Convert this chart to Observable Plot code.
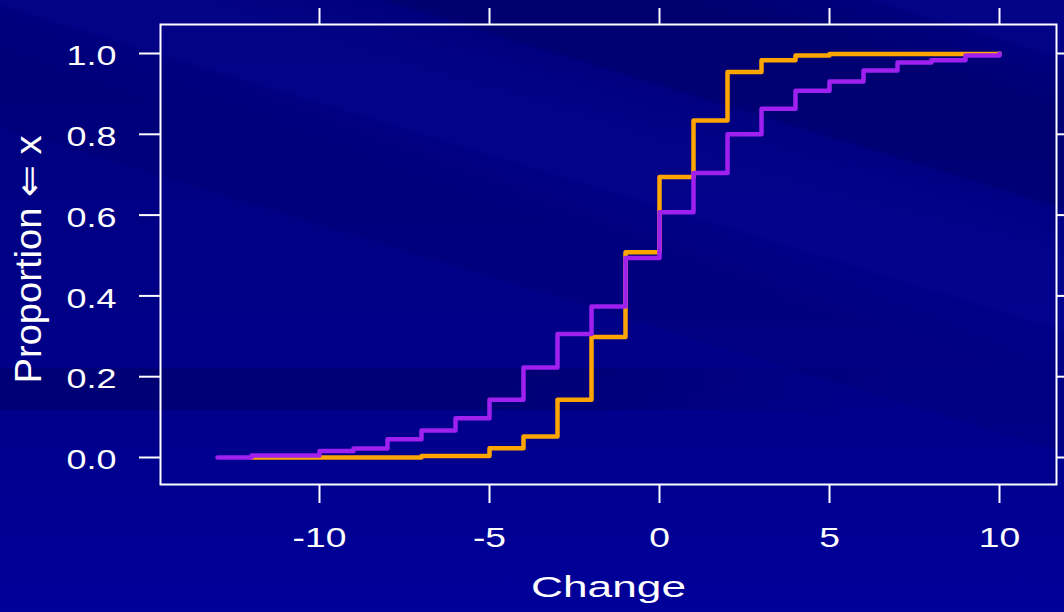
<!DOCTYPE html>
<html>
<head>
<meta charset="utf-8">
<script src="https://cdn.jsdelivr.net/npm/d3@7"></script>
<script src="https://cdn.jsdelivr.net/npm/@observablehq/plot@0.6"></script>
<style>
  html, body { margin: 0; padding: 0; }
  body {
    width: 1064px; height: 612px; overflow: hidden;
    font-family: "Liberation Sans", Arial, Helvetica, sans-serif;
    background:
      linear-gradient(90deg, rgba(0,0,40,0.22) 0%, rgba(0,0,40,0.22) 55%, rgba(0,0,40,0) 100%) 0 368px / 900px 42px no-repeat,
      linear-gradient(197deg,
        rgba(30,30,200,0.10) 0%, rgba(30,30,200,0.10) 6%, rgba(0,0,0,0) 6.5%,
        rgba(0,0,40,0.16) 12%, rgba(0,0,40,0.16) 22%, rgba(0,0,0,0) 22.5%,
        rgba(30,30,200,0.10) 29%, rgba(30,30,200,0.10) 35%, rgba(0,0,0,0) 35.5%,
        rgba(0,0,40,0.08) 41%, rgba(0,0,40,0.08) 48%, rgba(0,0,0,0) 48.5%,
        rgba(0,0,0,0) 100%),
      linear-gradient(180deg, #00007e 0%, #000086 45%, #00008c 70%, #00009a 100%);
  }
  #chart svg { display: block; }
</style>
</head>
<body>
<div id="chart"></div>
<script>
// ---- data ----
const changePurple = [-13,-12,-11,-10,-9,-8,-7,-6,-5,-4,-3,-2,-1,0,1,2,3,4,5,6,7,8,9,10];
const propPurple   = [0,0.005,0.005,0.016,0.022,0.045,0.067,0.097,0.143,0.223,0.306,0.374,0.494,0.607,0.704,0.800,0.863,0.908,0.931,0.958,0.978,0.983,0.995,1.0];

const changeOrange = [-12,-11,-10,-9,-8,-7,-6,-5,-4,-3,-2,-1,0,1,2,3,4,5,6,7,8,9,10];
const propOrange   = [0,0,0,0,0,0.004,0.004,0.023,0.052,0.143,0.298,0.508,0.694,0.834,0.954,0.983,0.995,0.999,0.999,0.999,0.999,0.999,1.0];

const xTicks = [-10,-5,0,5,10];
const yTicks = [0,0.2,0.4,0.6,0.8,1.0];
const xLabel = "Change";
const yLabel = "Proportion \u21D0 x";

const purpleData = changePurple.map((c, i) => ({change: c, prop: propPurple[i]}));
const orangeData = changeOrange.map((c, i) => ({change: c, prop: propOrange[i]}));

const chart = Plot.plot({
  width: 1064,
  height: 612,
  marginTop: 24,
  marginBottom: 128,
  marginLeft: 160,
  marginRight: 8,
  style: {background: "transparent", color: "white", fontFamily: "'Liberation Sans', Arial, sans-serif", overflow: "visible"},
  x: {domain: [-499/34, 397/34]},
  y: {domain: [-27/404, 1 + 29/404]},
  marks: [
    Plot.axisX({anchor: "bottom", ticks: xTicks, tickSize: 19, tickPadding: 24, tickFormat: d => String(d), fontSize: 28, strokeWidth: 2, label: null}),
    Plot.axisX({anchor: "top", ticks: xTicks, tickSize: 17, tickFormat: () => "", strokeWidth: 2, label: null}),
    Plot.axisY({anchor: "left", ticks: yTicks, tickSize: 21, tickFormat: () => "", strokeWidth: 2, label: null}),
    Plot.axisY({anchor: "left", ticks: yTicks, tickSize: 0, tickPadding: 44, tickFormat: d => d.toFixed(1), fontSize: 27, dy: 3, label: null}),
    Plot.axisY({anchor: "right", ticks: yTicks, tickSize: 8, tickFormat: () => "", strokeWidth: 2, label: null}),
    Plot.frame({stroke: "white", strokeWidth: 2}),
    Plot.line(orangeData, {x: "change", y: "prop", curve: "step-after", stroke: "#FFA500", strokeWidth: 4.5, strokeLinejoin: "round", strokeLinecap: "round"}),
    Plot.line(purpleData, {x: "change", y: "prop", curve: "step-after", stroke: "#A020F0", strokeWidth: 4.5, strokeLinejoin: "round", strokeLinecap: "round"}),
    Plot.text([xLabel], {frameAnchor: "bottom", text: d => d, fontSize: 30, fill: "white", textAnchor: "middle", lineAnchor: "middle", dy: 103}),
    Plot.text([yLabel], {frameAnchor: "left", text: d => d, fontSize: 36, fill: "white", rotate: -90, textAnchor: "middle", lineAnchor: "middle", dx: -131, dy: 5})
  ]
});

document.getElementById("chart").append(chart);

// widen glyphs horizontally like the reference rendering
chart.querySelectorAll("text").forEach(t => {
  const s = t.textContent;
  if (!s) return;
  const w = t.getComputedTextLength();
  let target;
  if (s === xLabel) target = 155;
  else if (s === yLabel) target = 248;
  else target = w * 1.33;
  t.setAttribute("textLength", target);
  t.setAttribute("lengthAdjust", "spacingAndGlyphs");
});
</script>
</body>
</html>
